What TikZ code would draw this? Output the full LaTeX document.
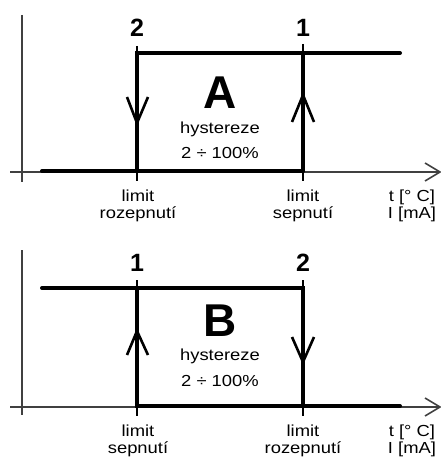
\documentclass[tikz,border=0pt]{standalone}
\usepackage{fontspec}
\setmainfont{Liberation Sans}
\newfontfamily\widefont[FakeStretch=1.15]{Liberation Sans}
\begin{document}
\begin{tikzpicture}[x=1pt,y=-1pt,
  axisline/.style={line width=1.3pt,black!75},
  thickline/.style={line width=4pt,line cap=round},
  tickline/.style={line width=1.5pt},
  barb/.style={line width=2.6pt,line join=miter},
  lbl/.style={font=\widefont\fontsize{16}{17}\selectfont,inner sep=0pt,align=center},
  num/.style={font=\bfseries\fontsize{25}{25}\selectfont,inner sep=0pt},
  big/.style={font=\bfseries\fontsize{46}{46}\selectfont,inner sep=0pt}]
\useasboundingbox (0,0) rectangle (440,462);
% ---------- panel A ----------
\coordinate (aY0) at (22,15); \coordinate (aY1) at (22,182);
\coordinate (aX0) at (10,172); \coordinate (aX1) at (440,172);
\draw[axisline] (aY0) -- (aY1);
\draw[axisline] (aX0) -- (aX1);
\coordinate (aH1) at (425,163); \coordinate (aH2) at (425,181);
\draw[axisline,line width=1.6pt] (aH1) -- (aX1) -- (aH2);
\coordinate (aL0) at (42,171); \coordinate (aL1) at (137,171); \coordinate (aL2) at (303,171);
\coordinate (aT1) at (137,53); \coordinate (aT2) at (303,53); \coordinate (aT3) at (400,53);
\draw[tickline] (137,46) -- (137,181);
\draw[tickline] (303,44) -- (303,181);
\draw[thickline] (aL0) -- (aL2);
\draw[thickline] (aL1) -- (aT1) -- (aT3);
\draw[thickline] (aL2) -- (aT2);
\coordinate (aD1) at (127,97); \coordinate (aD2) at (137,123); \coordinate (aD3) at (148,97);
\draw[barb] (aD1) -- (aD2) -- (aD3);
\coordinate (aU1) at (292,122); \coordinate (aU2) at (303,95); \coordinate (aU3) at (314,122);
\draw[barb] (aU1) -- (aU2) -- (aU3);
\node[num] (a2) at (137,28) {2};
\node[num] (a1) at (303,28) {1};
\node[big] (aA) at (220,93) {A};
\node[lbl] (ah) at (220,129) {hystereze};
\node[lbl] (ap) at (220,153) {2 ÷ 100\%};
\node[lbl] (al1) at (138,206) {limit\\rozepnutí};
\node[lbl] (al2) at (303,206) {limit\\sepnutí};
\node[lbl] (au) at (412,206) {t [° C]\\I [mA]};
% ---------- panel B ----------
\coordinate (bY0) at (22,250); \coordinate (bY1) at (22,415);
\coordinate (bX0) at (10,407); \coordinate (bX1) at (440,407);
\draw[axisline] (bY0) -- (bY1);
\draw[axisline] (bX0) -- (bX1);
\coordinate (bH1) at (425,398); \coordinate (bH2) at (425,416);
\draw[axisline,line width=1.6pt] (bH1) -- (bX1) -- (bH2);
\coordinate (bT0) at (42,288); \coordinate (bT1) at (137,288); \coordinate (bT2) at (303,288);
\coordinate (bL1) at (137,406); \coordinate (bL2) at (303,406); \coordinate (bL3) at (400,406);
\draw[tickline] (137,280) -- (137,416);
\draw[tickline] (303,280) -- (303,416);
\draw[thickline] (bT0) -- (bT2) -- (bL2);
\draw[thickline] (bT1) -- (bL1) -- (bL3);
\coordinate (bU1) at (127,355); \coordinate (bU2) at (137,331); \coordinate (bU3) at (148,355);
\draw[barb] (bU1) -- (bU2) -- (bU3);
\coordinate (bD1) at (292,337); \coordinate (bD2) at (303,362); \coordinate (bD3) at (314,337);
\draw[barb] (bD1) -- (bD2) -- (bD3);
\node[num] (b1) at (137,263) {1};
\node[num] (b2) at (303,263) {2};
\node[big] (bB) at (220,321) {B};
\node[lbl] (bh) at (220,356) {hystereze};
\node[lbl] (bp) at (220,381) {2 ÷ 100\%};
\node[lbl] (bl1) at (138,441) {limit\\sepnutí};
\node[lbl] (bl2) at (303,441) {limit\\rozepnutí};
\node[lbl] (bu) at (412,441) {t [° C]\\I [mA]};
\end{tikzpicture}
\end{document}
